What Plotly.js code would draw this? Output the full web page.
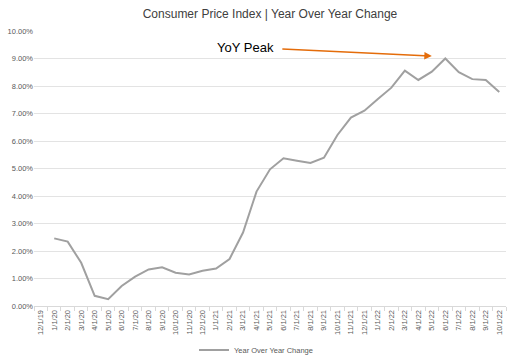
<!DOCTYPE html>
<html><head><meta charset="utf-8">
<script src="https://cdn.plot.ly/plotly-3.0.1.min.js"></script>
<style>html,body{margin:0;padding:0;background:#fff}#c{width:512px;height:362px}</style>
</head><body><div id="c"></div>
<script>
const categories = ["12/1/19","1/1/20","2/1/20","3/1/20","4/1/20","5/1/20","6/1/20","7/1/20","8/1/20","9/1/20","10/1/20","11/1/20","12/1/20","1/1/21","2/1/21","3/1/21","4/1/21","5/1/21","6/1/21","7/1/21","8/1/21","9/1/21","10/1/21","11/1/21","12/1/21","1/1/22","2/1/22","3/1/22","4/1/22","5/1/22","6/1/22","7/1/22","8/1/22","9/1/22","10/1/22"];
const yoyChange = [null,2.46,2.34,1.57,0.37,0.25,0.73,1.07,1.33,1.41,1.21,1.15,1.28,1.36,1.71,2.67,4.16,4.97,5.37,5.28,5.20,5.39,6.22,6.85,7.10,7.53,7.94,8.56,8.22,8.52,9.00,8.50,8.25,8.22,7.78];
const yTicks = [0,1,2,3,4,5,6,7,8,9,10];
const yTickLabels = yTicks.map(v => v.toFixed(2) + "%");
const seriesName = "Year Over Year Change";
const titleText = "Consumer Price Index | Year Over Year Change";
const peakLabel = "YoY Peak";

const font = "Liberation Sans, Arial, sans-serif";
Plotly.newPlot("c", [{
  x: categories, y: yoyChange, type: "scatter", mode: "lines",
  name: seriesName, line: {color: "#a0a0a0", width: 2}, connectgaps: false
}], {
  width: 512, height: 362,
  margin: {l: 34, r: 6, t: 31, b: 56},
  paper_bgcolor: "#fff", plot_bgcolor: "#fff",
  font: {family: font, color: "#595959"},
  title: {text: titleText, x: 0.5, xref: "paper", y: 0.963, yref: "container", yanchor: "middle",
    font: {size: 12, color: "#404040", family: font}},
  xaxis: {type: "category", tickangle: -90, tickfont: {size: 7.5, color: "#595959"},
    showgrid: false, showline: true, linecolor: "#d9d9d9", linewidth: 1, automargin: false,
    ticks: "outside", ticklen: 4, tickcolor: "#d9d9d9", tickson: "boundaries",
    range: [-0.5, categories.length - 0.5], fixedrange: true},
  yaxis: {range: [0, 10], tickvals: yTicks, ticktext: yTickLabels, automargin: false,
    tickfont: {size: 7.5, color: "#595959"}, gridcolor: "#e3e3e3", gridwidth: 1,
    zeroline: false, showline: false, ticks: "", ticklen: 0},
  showlegend: true,
  legend: {orientation: "h", x: 0.5, xanchor: "center", xref: "container",
    y: 0.033, yanchor: "middle", yref: "container",
    font: {size: 7.5, color: "#595959"}},
  annotations: [
    {x: "5/1/22", y: 9.09, xref: "x", yref: "y", ax: -151, ay: -7, text: "",
     showarrow: true, arrowhead: 2, arrowsize: 1, arrowwidth: 1.5, arrowcolor: "#e46c0a"},
    {x: 0.449, y: 0.94, xref: "paper", yref: "paper", text: peakLabel, showarrow: false,
     font: {size: 13, color: "#000", family: font}, xanchor: "center", yanchor: "middle"}
  ]
}, {displayModeBar: false, staticPlot: true});
</script></body></html>
